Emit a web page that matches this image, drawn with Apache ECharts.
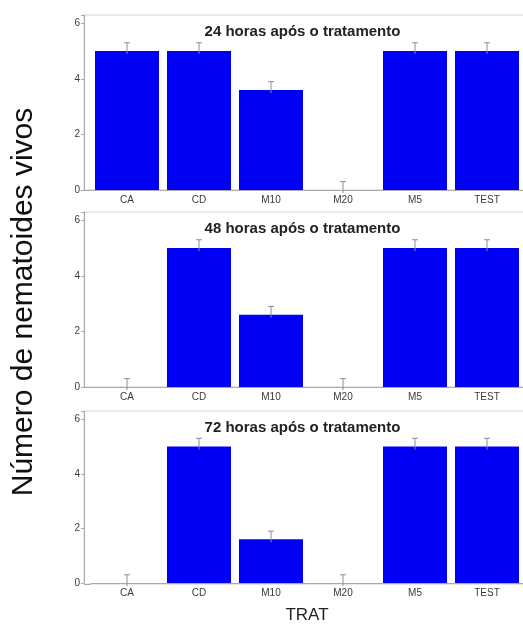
<!DOCTYPE html>
<html>
<head>
<meta charset="utf-8">
<script src="https://cdn.jsdelivr.net/npm/echarts@6/dist/echarts.min.js"></script>
<style>
html,body{margin:0;padding:0;background:#fff;}
#c{width:523px;height:625px;}
</style>
</head>
<body>
<div id="c"></div>
<script>
const categories = ['CA', 'CD', 'M10', 'M20', 'M5', 'TEST'];
const panelTitles = ['24 horas após o tratamento', '48 horas após o tratamento', '72 horas após o tratamento'];
const values24 = [5, 5, 3.6, 0, 5, 5];
const values48 = [0, 5, 2.6, 0, 5, 5];
const values72 = [0, 5, 1.6, 0, 5, 5];
const err24 = [0.3, 0.3, 0.3, 0.3, 0.3, 0.3];
const err48 = [0.3, 0.3, 0.3, 0.3, 0.3, 0.3];
const err72 = [0.3, 0.3, 0.3, 0.3, 0.3, 0.3];
const yTicks = [0, 2, 4, 6];
const yLabel = 'Número de nematoides vivos';
const xLabel = 'TRAT';

const valueSets = [values24, values48, values72];
const errSets = [err24, err48, err72];
const gridTops = [15, 212, 411];
const gridHeights = [175, 175, 173];
const gridLeft = 91;
const gridWidth = 432;
const frameLeft = 84;
const FONT = '"Liberation Sans", Arial, sans-serif';

const chart = echarts.init(document.getElementById('c'), null, {renderer: 'canvas'});

const grids = [], xAxes = [], yAxes = [], series = [], graphics = [];

for (let p = 0; p < 3; p++) {
  grids.push({left: gridLeft, top: gridTops[p], width: gridWidth, height: gridHeights[p]});
  graphics.push({
    type: 'rect', z: -1,
    shape: {x: frameLeft, y: gridTops[p], width: 523 - frameLeft + 2, height: gridHeights[p]},
    style: {fill: 'none', stroke: '#d4d4d4', lineWidth: 1}
  });
  graphics.push({
    type: 'line', z: 5,
    shape: {x1: frameLeft, y1: gridTops[p] + gridHeights[p] + 0.5, x2: gridLeft, y2: gridTops[p] + gridHeights[p] + 0.5},
    style: {stroke: '#aaaaaa', lineWidth: 1}
  });
  graphics.push({
    type: 'text', x: 302.5, y: gridTops[p] + 17, z: 10,
    style: {text: panelTitles[p], fontSize: 15, fontWeight: 'bold', fontFamily: FONT, fill: '#222', align: 'center', verticalAlign: 'middle'}
  });
  xAxes.push({
    type: 'category', gridIndex: p, data: categories,
    axisLine: {show: true, lineStyle: {color: '#aaaaaa', width: 1}},
    axisTick: {show: false},
    axisLabel: {fontSize: 10, color: '#3a3a3a', margin: 5, fontFamily: FONT, interval: 0},
    name: p === 2 ? xLabel : '',
    nameLocation: 'middle', nameGap: 24,
    nameTextStyle: {fontSize: 17, color: '#222', fontFamily: FONT}
  });
  yAxes.push({
    type: 'value', gridIndex: p, min: 0, max: 6.3, interval: 2, offset: 7,
    axisLine: {show: true, lineStyle: {color: '#aaaaaa', width: 1}},
    axisTick: {show: true, length: 3, lineStyle: {color: '#aaaaaa'}},
    splitLine: {show: false},
    axisLabel: {
      fontSize: 10, color: '#3a3a3a', margin: 4, fontFamily: FONT,
      formatter: v => (yTicks.indexOf(v) >= 0 ? String(v) : '')
    }
  });
  series.push({
    type: 'bar', xAxisIndex: p, yAxisIndex: p,
    data: valueSets[p],
    barWidth: 64,
    itemStyle: {color: '#0000f5', borderWidth: 0},
    animation: false
  });
  series.push({
    type: 'custom', xAxisIndex: p, yAxisIndex: p, z: 5,
    data: valueSets[p].map((v, i) => [i, v, errSets[p][i]]),
    renderItem: function (params, api) {
      const x = api.value(0), v = api.value(1), e = api.value(2);
      const p0 = api.coord([x, v]);
      const p1 = api.coord([x, v + e]);
      return {
        type: 'group',
        children: [
          {type: 'line', shape: {x1: p0[0], y1: p0[1] + 3, x2: p1[0], y2: p1[1]}, style: {stroke: '#8c8ca0', lineWidth: 1}},
          {type: 'line', shape: {x1: p1[0] - 3, y1: p1[1], x2: p1[0] + 3, y2: p1[1]}, style: {stroke: '#8c8ca0', lineWidth: 1}}
        ]
      };
    },
    animation: false
  });
}

graphics.push({
  type: 'text', x: 24, y: 302, rotation: Math.PI / 2,
  style: {text: yLabel, fontSize: 30, fontFamily: FONT, fill: '#111', align: 'center', verticalAlign: 'middle'}
});

chart.setOption({
  animation: false,
  backgroundColor: '#ffffff',
  grid: grids,
  xAxis: xAxes,
  yAxis: yAxes,
  series: series,
  graphic: graphics
});
</script>
</body>
</html>
